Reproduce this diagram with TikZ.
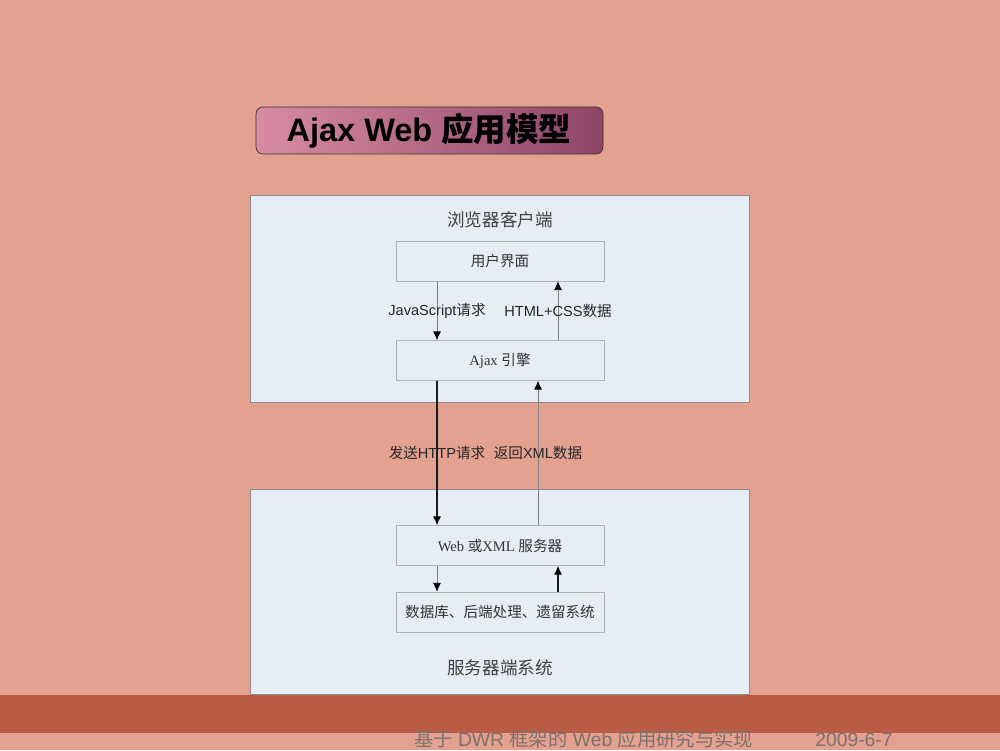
\documentclass[tikz,border=0pt]{standalone}
\usepackage{xcolor}
\usepackage{fontspec}
\setmainfont{Liberation Serif}
\setsansfont{Liberation Sans}
\newfontfamily\cjk{Noto Sans CJK SC}
\usetikzlibrary{arrows.meta,shapes,positioning,calc}

\definecolor{slidebg}{HTML}{E4A190}
\definecolor{bandred}{HTML}{B95B45}
\definecolor{panelfill}{HTML}{E7EDF6}
\definecolor{footgray}{HTML}{7C706C}
\definecolor{titleleft}{HTML}{D88BA2}
\definecolor{titleright}{HTML}{8E4568}

\tikzset{
  panel/.style={shape=rectangle,draw=black!45,fill=panelfill,minimum width=9.98cm,minimum height=4.14cm,inner sep=0pt},
  layer/.style={shape=rectangle,draw=black!30,fill=panelfill,minimum width=4.16cm,minimum height=0.8cm,inner sep=0pt,font=\fontsize{8.3}{10}\selectfont,text=black!80},
  flowlabel/.style={font=\sffamily\fontsize{8.3}{10}\selectfont,text=black!85,inner sep=1pt},
  flow/.style={-{Latex[length=5pt,width=4.6pt,color=black]},draw=black!50,line width=0.45pt},
}

\begin{document}
\begin{tikzpicture}
    \useasboundingbox (0,0) rectangle (20,15);
    \fill[slidebg] (0,0) rectangle (20,15);
    \fill[bandred] (0,0.34) rectangle (20,1.1);

    % title
    \node[shape=rectangle,rounded corners=4pt,draw=black!80,left color=titleleft,right color=titleright,minimum width=6.94cm,minimum height=0.94cm,inner sep=0pt] (title) at (8.59,12.39) {};
    \node[font=\sffamily\bfseries\fontsize{18.5}{20}\selectfont,text=black] (titletext) at (8.58,12.39) {Ajax Web {\cjk\bfseries 应用模型}};

    % two panels
    \node[panel] (browser) at (9.99,9.03) {};
    \node[panel,minimum height=4.1cm] (server) at (9.99,3.17) {};
    \node[font=\cjk\fontsize{10}{12}\selectfont,text=black!75] (browsertitle) at (10,10.6) {浏览器客户端};
    \node[font=\cjk\fontsize{10}{12}\selectfont,text=black!75] (servertitle) at (10,1.64) {服务器端系统};

    % layers
    \node[layer] (ui) at (10,9.78) {\cjk 用户界面};
    \node[layer] (ajax) at (10,7.79) {Ajax {\cjk 引擎}};
    \node[layer] (web) at (10,4.09) {Web {\cjk 或}XML {\cjk 服务器}};
    \node[layer] (db) at (10,2.76) {\cjk 数据库、后端处理、遗留系统};

    \path ([xshift=-1.26cm]ui.south) edge[flow] node[flowlabel] {JavaScript{\cjk 请求}} ([xshift=-1.26cm]ajax.north);
    \path ([xshift=1.16cm]ajax.north) edge[flow] node[flowlabel] {HTML+CSS{\cjk 数据}} ([xshift=1.16cm]ui.south);
    \path ([xshift=-1.26cm]ajax.south) edge[flow,draw=black!90,line width=0.6pt] node[flowlabel] {{\cjk 发送}HTTP{\cjk 请求}} ([xshift=-1.26cm]web.north);
    \path ([xshift=0.76cm]web.north) edge[flow] node[flowlabel] {{\cjk 返回}XML{\cjk 数据}} ([xshift=0.76cm]ajax.south);
    \path ([xshift=-1.26cm]web.south) edge[flow] node {} ([xshift=-1.26cm]db.north);
    \path ([xshift=1.16cm]db.north) edge[flow,draw=black!90,line width=0.6pt] node {} ([xshift=1.16cm]web.south);

    % footer
    \node[font=\sffamily\fontsize{11}{13}\selectfont,text=footgray] (foottitle) at (11.67,0.21) {{\cjk 基于} DWR {\cjk 框架的} Web {\cjk 应用研究与实现}};
    \node[font=\sffamily\fontsize{11}{13}\selectfont,text=footgray] (footdate) at (17.08,0.21) {2009-6-7};
\end{tikzpicture}
\end{document}
